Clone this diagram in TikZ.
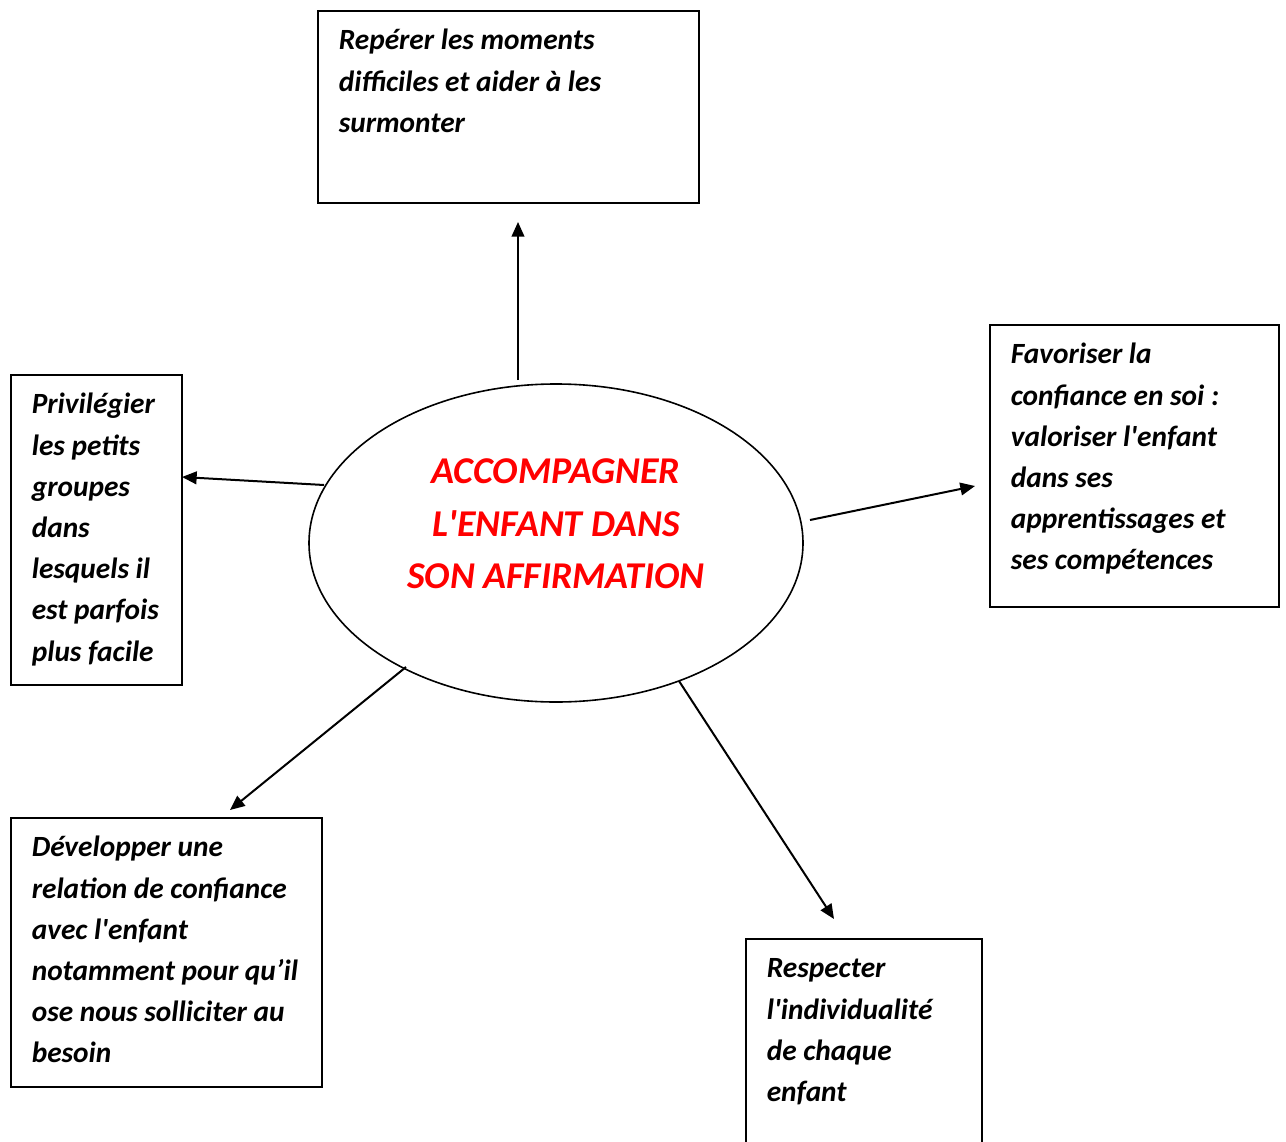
\documentclass[tikz,border=0pt]{standalone}
\usepackage{fontspec}
\setmainfont{Carlito}[Ligatures=TeXOff]
\usetikzlibrary{arrows.meta,shapes.geometric}
\newcommand\boxfont{\fontsize{22}{30.9}\selectfont\bfseries\itshape}
\newcommand\ellfont{\fontsize{28.4}{39.4}\selectfont\bfseries\itshape}
\newcommand\bx[3]{\parbox[t][#2][t]{#1}{\raggedright\strut #3}}
\tikzset{
  box/.style={draw, line width=1.2pt, anchor=north west, inner xsep=15.75pt, inner ysep=7.75pt, font=\boxfont},
  arr/.style={line width=1.5pt, -{Triangle[length=11pt,width=9.5pt]}},
  mainell/.style={ellipse, draw, line width=1.2pt, minimum width=370.5pt, minimum height=238.5pt, inner sep=0pt, align=center, text=red, font=\ellfont}
}
\begin{document}
\begin{tikzpicture}[x=0.75pt,y=-0.75pt]
\clip (0,0) rectangle (1286,1142);
\fill[white] (0,0) rectangle (1286,1142);

\node[mainell] (ell) at (556,543) {ACCOMPAGNER\\L'ENFANT DANS\\SON AFFIRMATION\rule[-28.5pt]{0pt}{28.5pt}};

\node[box] (top) at (317,10) {\bx{254.25pt}{128.5pt}{Repérer les moments\\difficiles et aider à les\\surmonter}};
\node[box] (left) at (10,374) {\bx{96.75pt}{217pt}{Privilégier\\les petits\\groupes\\dans\\lesquels il\\est parfois\\plus facile}};
\node[box] (right) at (989,324) {\bx{185.25pt}{196pt}{Favoriser la\\confiance en soi :\\valoriser l'enfant\\dans ses\\apprentissages et\\ses compétences}};
\node[box] (botleft) at (10,817) {\bx{201.75pt}{186.25pt}{Développer une\\relation de confiance\\avec l'enfant\\notamment pour qu’il\\ose nous solliciter au\\besoin}};
\node[box] (botright) at (745,938) {\bx{145.5pt}{157pt}{Respecter\\l'individualité\\de chaque\\enfant}};

\coordinate (upS) at (518,380);   \coordinate (upE) at (518,222);
\coordinate (lfS) at (324,485);   \coordinate (lfE) at (182,477);
\coordinate (rtS) at (810,520);   \coordinate (rtE) at (975,486);
\coordinate (blS) at (406,667);   \coordinate (blE) at (230,810);
\coordinate (brS) at (679,681);   \coordinate (brE) at (834,919);

\draw[arr] (upS) -- (upE);
\draw[arr] (lfS) -- (lfE);
\draw[arr] (rtS) -- (rtE);
\draw[arr] (blS) -- (blE);
\draw[arr] (brS) -- (brE);
\end{tikzpicture}
\end{document}
